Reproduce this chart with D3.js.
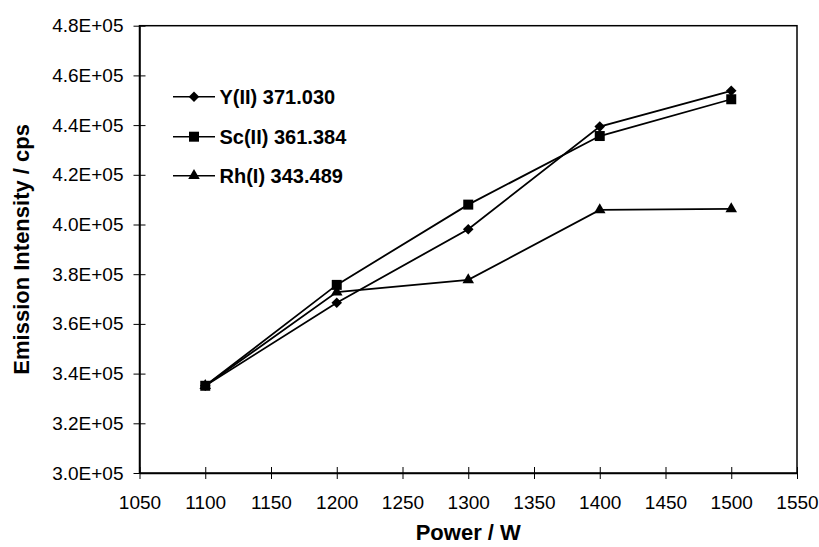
<!DOCTYPE html>
<html>
<head>
<meta charset="utf-8">
<script src="https://cdn.jsdelivr.net/npm/d3@7"></script>
<style>
  body { margin: 0; background: #fff; }
  svg { display: block; font-family: "Liberation Sans", Arial, sans-serif; }
</style>
</head>
<body>
<div id="chart"></div>
<script>
const power = [1100, 1200, 1300, 1400, 1500];
const yII = [335100, 368500, 398100, 439400, 453800];
const scII = [335100, 375700, 408000, 435600, 450400];
const rhI = [335100, 372800, 377700, 405900, 406300];

const seriesNames = ["Y(II) 371.030", "Sc(II) 361.384", "Rh(I) 343.489"];
const xTicks = [1050, 1100, 1150, 1200, 1250, 1300, 1350, 1400, 1450, 1500, 1550];
const yTicks = [300000, 320000, 340000, 360000, 380000, 400000, 420000, 440000, 460000, 480000];

const width = 819, height = 547;
const margin = {top: 25.7, right: 22, bottom: 74, left: 139.5};

const svg = d3.select("#chart").append("svg")
    .attr("width", width)
    .attr("height", height);

const x = d3.scaleLinear()
    .domain([1050, 1550])
    .range([margin.left, width - margin.right]);

const y = d3.scaleLinear()
    .domain([300000, 480000])
    .range([height - margin.bottom, margin.top]);

const fmt = d => (d / 1e5).toFixed(1) + "E+05";

// plot frame
svg.append("rect")
    .attr("x", x(1050))
    .attr("y", y(480000))
    .attr("width", x(1550) - x(1050))
    .attr("height", y(300000) - y(480000))
    .attr("fill", "none")
    .attr("stroke", "#000")
    .attr("stroke-width", 1.5);

// x axis
svg.append("g")
    .attr("transform", `translate(0,${y(300000)})`)
    .call(d3.axisBottom(x).tickValues(xTicks).tickFormat(d3.format("d")).tickSizeInner(6).tickSizeOuter(0))
    .call(g => g.select(".domain").attr("stroke-width", 1.5))
    .call(g => g.selectAll(".tick line").attr("y1", -6).attr("stroke-width", 1))
    .call(g => g.selectAll(".tick text")
        .attr("y", 0).attr("dy", null).attr("transform", "translate(0,36)")
        .attr("font-size", 19).attr("font-family", "Liberation Sans, Arial, sans-serif").attr("fill", "#000"));

// y axis
svg.append("g")
    .attr("transform", `translate(${x(1050)},0)`)
    .call(d3.axisLeft(y).tickValues(yTicks).tickFormat(fmt).tickSizeInner(6).tickSizeOuter(0))
    .call(g => g.select(".domain").attr("stroke-width", 1.5))
    .call(g => g.selectAll(".tick line").attr("x1", 6).attr("x2", -6).attr("stroke-width", 1))
    .call(g => g.selectAll(".tick text")
        .attr("x", -16)
        .attr("font-size", 19).attr("font-family", "Liberation Sans, Arial, sans-serif").attr("fill", "#000"));

// axis titles
svg.append("text")
    .attr("x", (x(1050) + x(1550)) / 2)
    .attr("y", 540)
    .attr("text-anchor", "middle")
    .attr("font-size", 22)
    .attr("font-weight", "bold")
    .text("Power / W");

svg.append("text")
    .attr("transform", `translate(29,${(y(300000) + y(480000)) / 2}) rotate(-90)`)
    .attr("text-anchor", "middle")
    .attr("font-size", 22)
    .attr("font-weight", "bold")
    .text("Emission Intensity / cps");

// series
const series = [
  {name: seriesNames[0], values: yII, symbol: d3.symbol().type(d3.symbolSquare).size(56), rotate: 45},
  {name: seriesNames[1], values: scII, symbol: d3.symbol().type(d3.symbolSquare).size(100), rotate: 0},
  {name: seriesNames[2], values: rhI, symbol: d3.symbol().type(d3.symbolTriangle).size(58), rotate: 0}
];

const line = d3.line()
    .x((d, i) => x(power[i]))
    .y(d => y(d));

series.forEach(s => {
  svg.append("path")
      .attr("d", line(s.values))
      .attr("fill", "none")
      .attr("stroke", "#000")
      .attr("stroke-width", 1.8);
});

series.forEach(s => {
  svg.append("g").selectAll("path")
    .data(s.values)
    .join("path")
      .attr("d", s.symbol())
      .attr("transform", (d, i) => `translate(${x(power[i])},${y(d)}) rotate(${s.rotate})`)
      .attr("fill", "#000");
});

// legend
const legendY = [96.7, 136.7, 175.7];
const legend = svg.append("g");
series.forEach((s, i) => {
  const row = legend.append("g").attr("transform", `translate(173,${legendY[i]})`);
  row.append("line")
      .attr("x1", 0).attr("x2", 42)
      .attr("stroke", "#000").attr("stroke-width", 1.5);
  row.append("path")
      .attr("d", s.symbol())
      .attr("transform", `translate(21,0) rotate(${s.rotate})`)
      .attr("fill", "#000");
  row.append("text")
      .attr("x", 46.5)
      .attr("dy", "0.36em")
      .attr("font-size", 20)
      .attr("font-weight", "bold")
      .text(s.name);
});
</script>
</body>
</html>
